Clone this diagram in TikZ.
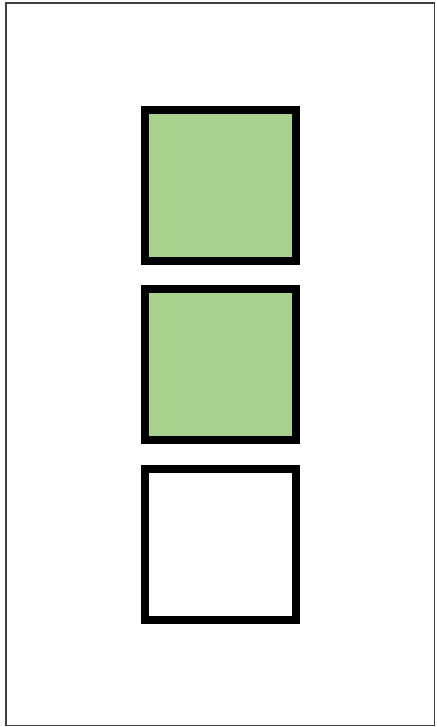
\documentclass[tikz,border=0pt]{standalone}
\usetikzlibrary{positioning}
\definecolor{leafgreen}{HTML}{A9D18E}
\begin{document}
\begin{tikzpicture}[x=1pt, y=1pt,
    box/.style={draw=black, line width=8pt, minimum size=151pt,
      inner sep=0pt, outer sep=0pt},
    greenbox/.style={box, fill=leafgreen},
    node distance=28.5pt]
  % Page size
  \useasboundingbox (0,0) rectangle (436,727);
  % Frame
  \draw[black!75, line width=1.5pt] (6,1.5) rectangle (434.5,724);
  % Stack of boxes
  \node[greenbox] (top) at (220.5,541.5) {};
  \node[greenbox, below=of top] (middle) {};
  \node[box, fill=white, below=of middle] (bottom) {};
\end{tikzpicture}
\end{document}
